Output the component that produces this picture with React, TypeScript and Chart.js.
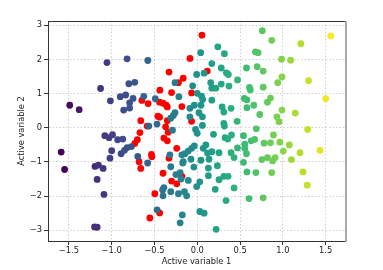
import React, { useEffect, useRef } from "react";
import { Chart, registerables } from "chart.js";

Chart.register(...registerables);

const xTicks = [-1.5, -1.0, -0.5, 0.0, 0.5, 1.0, 1.5];
const yTicks = [-3, -2, -1, 0, 1, 2, 3];
const xTitle = "Active variable 1";
const yTitle = "Active variable 2";

// colored (viridis by x) points
const pointsX = [
  -1.055, -0.82, -0.578, -1.13, -0.8, -0.73, -1.49, -1.38, -1.015, -0.9, -0.836, -0.75, -0.625, -0.79, -0.79, -0.86,
  -1.59, -1.55, -1.08, -1.03, -0.99, -0.93, -0.87, -1.0, -1.02, -0.89, -0.85, -0.82, -0.77, -0.695, -1.195, -1.155, -1.1, -1.17, -1.09, -1.2, -1.17, -0.58,
  -0.566, -0.47, -0.49,
  0.04, 0.24, 0.317, 0.17, -0.007, 0.08, 0.28, 0.34, 0.363, -0.26, -0.054, 0.157, 0.17, 0.216, 0.28, 0.37, 0.47, -0.215, 0.0, 0.05, 0.063, 0.17,
  -0.086, -0.035, 0.043, 0.29, 0.31, 0.395, -0.26, -0.28, -0.31, -0.086, 0.02, 0.06, 0.06, -0.02, 0.31, 0.317, 0.465,
  -0.29, 0.0, 0.19, 0.325, 0.356, 0.4, 0.54,
  -0.035, -0.066, -0.105, -0.144, -0.18, 0.1, 0.07, 0.12, 0.17, 0.254, 0.395, 0.43, 0.47, -0.32,
  -0.164, -0.074, 0.043, 0.137,
  -0.31, -0.17, -0.04, 0.13, 0.235,
  -0.25, -0.2, -0.19, -0.105, 0.03, -0.007, 0.13, 0.254, 0.31, 0.36, 0.43, 0.21,
  -0.39, -0.405, -0.31, -0.15, -0.22, -0.124, -0.4, 0.336,
  -0.47, 0.03, 0.08, -0.175, -0.2, 0.22,
  0.76, 0.87, 1.21, 1.56, 0.68, 0.71, 0.575, 0.7, 0.77, 0.985, 1.09, 0.99, 0.94, 1.3, 0.61, 0.62, 0.77,
  0.55, 0.58, 0.855, 0.82, 0.66, 0.58, 0.99, 1.5, 1.145, 0.73, 0.93, 0.955, 0.69, 1.29,
  0.89, 0.63, 0.67, 0.555, 0.555, 0.78, 0.855, 0.965, 1.075, 1.005, 1.2, 1.435, 0.575, 0.82, 0.91, 0.755, 0.88, 1.1,
  0.54, 0.58, 0.685, 0.87, 1.235, 1.285, 0.605, 0.77,
];
const pointsY = [
  1.91, 2.02, 1.97, 1.15, 1.29, 1.33, 0.66, 0.53, 0.79, 0.91, 0.96, 0.86, 0.92, 0.73, 0.58, 0.52,
  -0.71, -1.22, -0.23, -0.29, -0.2, -0.35, -0.33, -0.67, -0.89, -0.76, -0.66, -0.58, -0.55, -0.84, -1.13, -1.09, -1.19, -1.51, -1.95, -2.9, -2.91, -1.03,
  0.05, 0.11, 0.85,
  2.2, 2.37, 2.17, 1.88, 1.56, 1.6, 1.75, 1.61, 1.56, 1.32, 1.23, 1.32, 1.16, 1.16, 1.28, 1.22, 1.4, 0.91, 1.01, 0.93, 0.83, 0.81,
  0.57, 0.66, 0.66, 0.61, 0.46, 0.57, 0.44, 0.36, 0.28, 0.32, 0.44, 0.32, 0.07, -0.05, 0.13, 0.05, 0.19,
  -0.07, -0.16, -0.19, -0.29, -0.33, -0.21, -0.23,
  -0.53, -0.6, -0.68, -0.76, -0.79, -0.5, -0.6, -0.74, -0.7, -0.73, -0.73, -0.87, -0.59, -0.79,
  -0.99, -0.92, -0.95, -0.92,
  -1.14, -1.03, -1.15, -1.18, -1.11,
  -1.37, -1.31, -1.5, -1.54, -1.58, -1.72, -1.4, -1.52, -1.42, -1.42, -1.76, -1.8,
  -1.75, -1.82, -1.87, -1.87, -1.93, -1.99, -1.99, -2.13,
  -2.4, -2.45, -2.5, -2.55, -2.78, -2.97,
  2.84, 2.56, 2.46, 2.69, 2.22, 2.2, 1.75, 1.79, 1.66, 2.01, 1.98, 1.49, 1.32, 1.38, 1.18, 1.11, 1.19,
  0.86, 0.82, 0.87, 0.75, 0.66, 0.59, 0.52, 0.85, 0.43, 0.39, 0.32, 0.18, -0.03, -0.05,
  -0.21, -0.38, -0.34, -0.48, -0.6, -0.45, -0.44, -0.42, -0.5, -0.68, -0.73, -0.66, -0.76, -0.87, -0.87, -0.93, -0.97, -0.93,
  -1.01, -1.29, -1.31, -1.31, -1.29, -1.68, -2.07, -2.05,
];

// red points
const redX = [
  -0.647, -0.574, -0.66, -0.586,
  0.055, -0.085, 0.117, -0.33, -0.164, -0.22, -0.437, -0.3, -0.066, -0.44, -0.4, -0.363, -0.35, -0.18, -0.46, -0.44, -0.35, -0.37, -0.066,
  -0.34, -0.39, -0.35, -0.24, -0.535, -0.53, -0.33, -0.4, -0.18, -0.3, -0.24, -0.496, -0.44, -0.554,
  -0.67, -0.7, -0.73, -0.68, -0.66,
];
const redY = [
  0.8, 0.71, 0.21, 0.05,
  2.71, 2.03, 1.66, 1.63, 1.45, 1.32, 1.1, 1.03, 1.02, 0.75, 0.72, 0.66, 0.61, 0.62, 0.34, 0.31, 0.21, 0.03, 0.19,
  -0.13, -0.3, -0.38, -0.6, -0.78, -0.85, -0.89, -1.33, -1.42, -1.56, -1.64, -1.93, -2.49, -2.64,
  -0.14, -0.35, -0.46, -0.99, -1.19,
];

const VIRIDIS = [
  "#440154", "#482475", "#414487", "#355f8d", "#2a788e", "#21918c",
  "#22a884", "#44bf70", "#7ad151", "#bddf26", "#fde725",
];

function hexToRgb(h: string) {
  const n = parseInt(h.slice(1), 16);
  return [(n >> 16) & 255, (n >> 8) & 255, n & 255];
}

function viridis(t: number) {
  const c = Math.max(0, Math.min(1, t)) * (VIRIDIS.length - 1);
  const i = Math.min(Math.floor(c), VIRIDIS.length - 2);
  const f = c - i;
  const a = hexToRgb(VIRIDIS[i]);
  const b = hexToRgb(VIRIDIS[i + 1]);
  const r = a.map((v, k) => Math.round(v + (b[k] - v) * f));
  return `rgb(${r[0]},${r[1]},${r[2]})`;
}

const minus = (s: string) => s.replace("-", "\u2212");
const FONT = { family: "DejaVu Sans", size: 8.3 };
const TEXT = "#222";

const spinePlugin = {
  id: "spines",
  afterDraw(chart: any) {
    const { ctx, chartArea } = chart;
    ctx.save();
    ctx.strokeStyle = "#333";
    ctx.lineWidth = 1;
    ctx.beginPath();
    ctx.moveTo(chartArea.left, chartArea.top + 0.5);
    ctx.lineTo(chartArea.right, chartArea.top + 0.5);
    ctx.stroke();
    ctx.strokeStyle = "#a8a8a8";
    ctx.lineWidth = 2;
    ctx.beginPath();
    ctx.moveTo(chartArea.right + 1, chartArea.top);
    ctx.lineTo(chartArea.right + 1, chartArea.bottom + 1);
    ctx.stroke();
    ctx.restore();
  },
};

export default function App() {
  const ref = useRef<HTMLCanvasElement>(null);
  useEffect(() => {
    document.body.style.margin = "0";
    const canvas = ref.current!;
    const colored = pointsX.map((x, i) => ({ x, y: pointsY[i] }));
    const red = redX.map((x, i) => ({ x, y: redY[i] }));
    const xmin = Math.min(...pointsX);
    const xmax = Math.max(...pointsX);
    const colors = pointsX.map((x) => viridis((x - xmin) / (xmax - xmin)));

    const gridCommon = {
      color: "#c4c4c4",
      lineWidth: 0.8,
      tickColor: "#333",
      tickLength: 4,
      tickWidth: 1,
      tickBorderDash: [],
    };

    const chart = new Chart(canvas, {
      type: "scatter",
      data: {
        datasets: [
          {
            data: colored,
            backgroundColor: colors,
            borderWidth: 0,
            pointRadius: 3.4,
            order: 0,
          },
          {
            data: red,
            backgroundColor: "#ff0000",
            borderWidth: 0,
            pointRadius: 3.4,
            order: 1,
          },
        ],
      },
      options: {
        responsive: false,
        animation: false,
        devicePixelRatio: 1,
        layout: { padding: { left: 0, top: 21, right: 38, bottom: 0 } },
        plugins: { legend: { display: false }, tooltip: { enabled: false } },
        scales: {
          x: {
            type: "linear",
            min: -1.744,
            max: 1.726,
            afterBuildTicks: (s: any) => {
              s.ticks = xTicks.map((v) => ({ value: v }));
            },
            afterFit: (s: any) => {
              s.height = 29;
            },
            ticks: {
              font: FONT,
              color: TEXT,
              padding: 1,
              maxRotation: 0,
              autoSkip: false,
              callback: (v: any) => minus(Number(v).toFixed(1)),
            },
            grid: gridCommon,
            border: { display: true, color: "#333", width: 1, dash: [1.5, 2] },
            title: {
              display: true,
              text: xTitle,
              font: FONT,
              color: TEXT,
              padding: { top: 0, bottom: 3.5 },
            },
          },
          y: {
            type: "linear",
            min: -3.313,
            max: 3.126,
            afterBuildTicks: (s: any) => {
              s.ticks = yTicks.map((v) => ({ value: v }));
            },
            afterFit: (s: any) => {
              s.width = 48;
            },
            ticks: {
              font: FONT,
              color: TEXT,
              padding: 2,
              autoSkip: false,
              callback: (v: any) => minus(String(v)),
            },
            grid: gridCommon,
            border: { display: true, color: "#333", width: 1, dash: [1.5, 2] },
            title: {
              display: true,
              text: yTitle,
              font: FONT,
              color: TEXT,
              padding: { top: 16.5, bottom: 0 },
            },
          },
        },
      } as any,
      plugins: [spinePlugin],
    });
    return () => chart.destroy();
  }, []);
  return (
    <div style={{ position: "absolute", left: 0, top: 0, width: 383, height: 270 }}>
      <canvas ref={ref} width={383} height={270} />
    </div>
  );
}
